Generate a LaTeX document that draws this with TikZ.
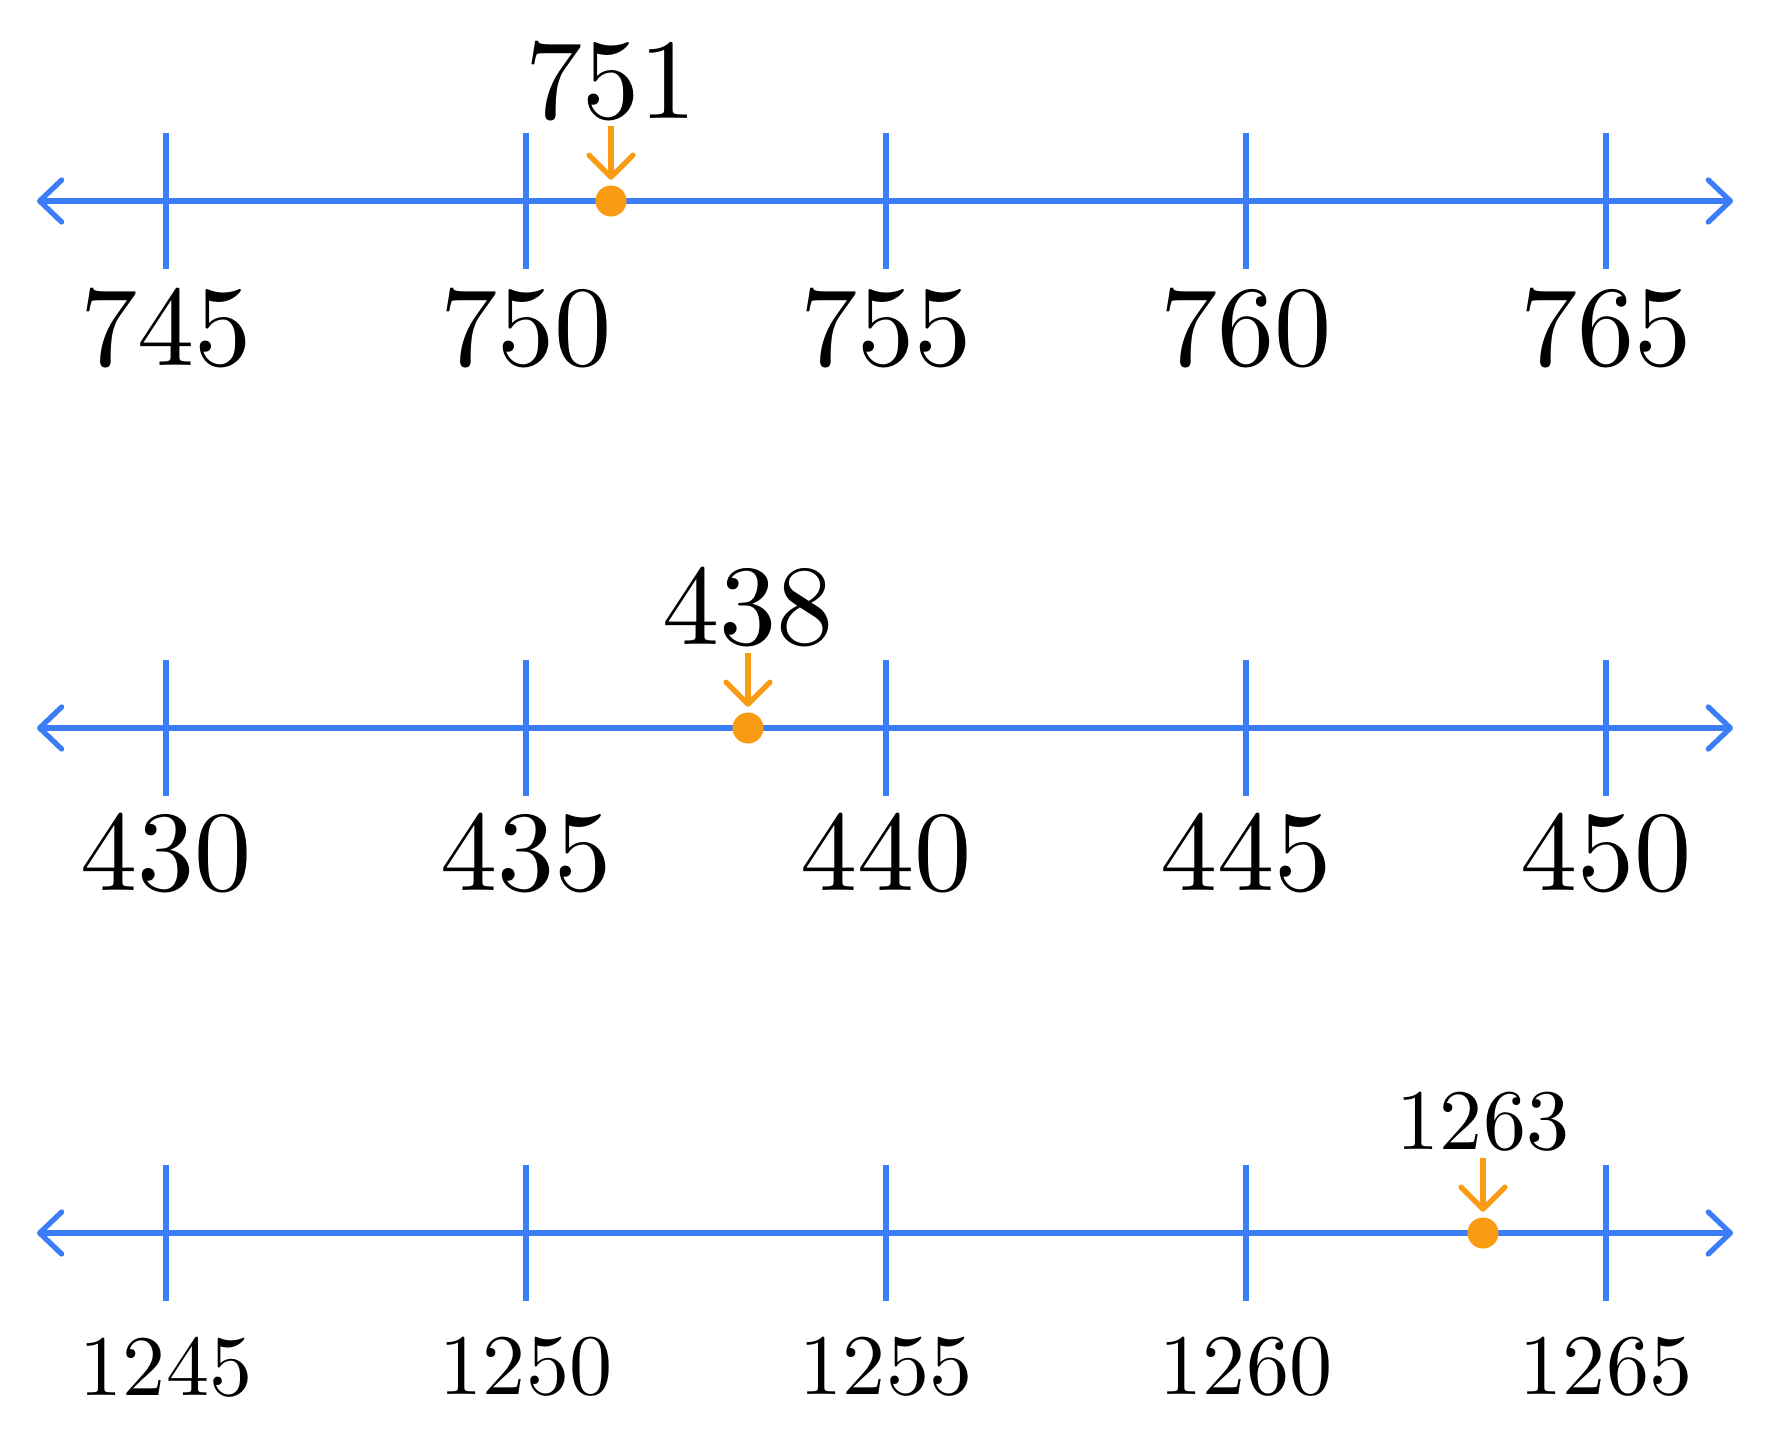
\documentclass[tikz,border=0pt]{standalone}
\usepackage{tikz}
\usetikzlibrary{arrows.meta}
\definecolor{axisblue}{RGB}{59,125,246}
\definecolor{markorange}{RGB}{250,155,20}

\begin{document}
\begin{tikzpicture}[x=0.01cm,y=-0.01cm,
  axisline/.style={axisblue,line width=1.5pt,
    {Straight Barb[length=2.2mm,width=4.2mm,round]}-{Straight Barb[length=2.2mm,width=4.2mm,round]}},
  tickline/.style={axisblue,line width=1.5pt},
  dot/.style={circle,fill=markorange,inner sep=0pt,minimum size=3.1mm},
  pointer/.style={markorange,line width=1.5pt,shorten >=0.5mm,
    -{Straight Barb[length=2.2mm,width=4.4mm,round]}}]
  \useasboundingbox (0,0) rectangle (1772,1439);
  % row / axis y / first tick / point x / point value / text scale / label offsets
  \foreach \r/\yy/\first/\px/\val/\sc/\dn/\up in
    {1/201/745/611/751/3.25/127/120,
     2/728/430/748/438/3.25/125/121,
     3/1233/1245/1483/1263/2.45/134/111}{
    \coordinate (l\r) at (37,\yy);
    \coordinate (r\r) at (1733,\yy);
    \draw[axisline] (l\r) -- (r\r);
    \foreach \i [evaluate=\i as \n using int(\first+5*\i),
                 evaluate=\i as \x using 166+360*\i] in {0,...,4}{
      \draw[tickline] (\x,\yy-68) -- (\x,\yy+68);
      \node[scale=\sc] (lab\r-\i) at (\x,\yy+\dn) {\n};
    }
    \node[dot] (dot\r) at (\px,\yy) {};
    \coordinate (ptop\r) at (\px,\yy-75);
    \draw[pointer] (ptop\r) -- (dot\r.north);
    \node[scale=\sc] (val\r) at (\px,\yy-\up) {\val};
  }
\end{tikzpicture}
\end{document}
